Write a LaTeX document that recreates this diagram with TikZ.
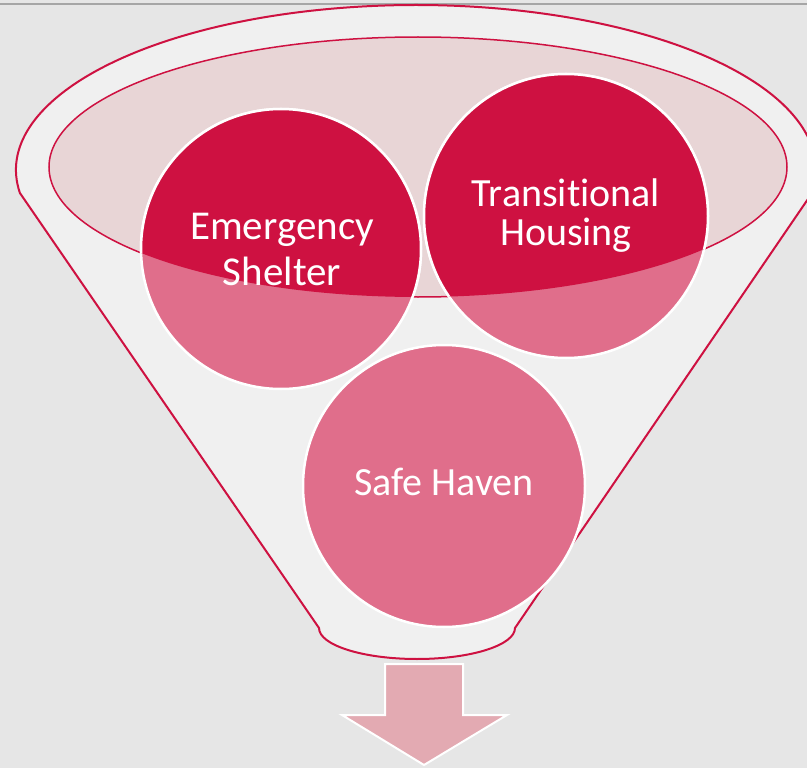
\documentclass[tikz,border=0pt]{standalone}
\usepackage{fontspec}
\setmainfont{Carlito}[Ligatures=NoCommon]
\definecolor{crimson}{HTML}{CE1141}
\definecolor{rosepink}{HTML}{E06E8B}
\definecolor{funnelgray}{HTML}{F0F0F0}
\definecolor{backgray}{HTML}{E6E6E6}
\definecolor{mouthpink}{HTML}{E8D5D6}
\definecolor{arrowpink}{HTML}{E3AAB2}
\begin{document}
\begin{tikzpicture}[
        x=1pt, y=-1pt,
        bubble/.style={
        circle,
        draw=white,
        line width=2.5pt,
        inner sep=0pt,
        fill=#1,
        },
        bubble/.default=rosepink,
        caption/.style={
        text=white,
        align=center,
        inner sep=0pt,
        },
        outline/.style={draw=crimson, line width=2pt}
      ]
        \useasboundingbox[fill=backgray] (0, 0) rectangle (807, 768);
        \draw[gray!70, line width=1.5pt] (0, 4) -- (807, 4);

        % funnel body
        \path[outline, fill=funnelgray, line join=round]
          (416, 170) ++(172:400 and 165)
          arc[start angle=172, end angle=368, x radius=400, y radius=165]
          -- (515, 628)
          arc[start angle=0, end angle=180, x radius=98, y radius=31]
          -- cycle;
        \path[draw=crimson, line width=1.5pt, fill=mouthpink]
          (418, 167) ellipse [x radius=369, y radius=130];

        % circles
        \node[bubble, minimum size=280pt] (es) at (281, 249) {};
        \node[bubble, minimum size=284pt] (th) at (566, 216) {};
        \node[bubble, minimum size=282pt] (sh) at (444, 486) {};

        \begin{scope}
          \clip (418, 167) ellipse [x radius=369, y radius=130];
          \node[bubble=crimson, minimum size=280pt] at (es.center) {};
          \node[bubble=crimson, minimum size=284pt] at (th.center) {};
        \end{scope}

        \node[caption, font=\fontsize{41}{46}\selectfont] (est) at (282, 249) {Emergency\\Shelter};
        \node[caption, font=\fontsize{40}{39}\selectfont] (tht) at (th.center) {Transitional\\Housing};
        \node[caption, font=\fontsize{40}{46}\selectfont] (sht) at (444, 482) {Safe Haven};

        % outlet arrow
        \path[draw=white, line width=2pt, fill=arrowpink, line join=miter]
          (385, 664) -- (463, 664) -- (463, 715) -- (507, 715)
          -- (424, 765) -- (342, 715) -- (385, 715) -- cycle;
      \end{tikzpicture}
\end{document}
